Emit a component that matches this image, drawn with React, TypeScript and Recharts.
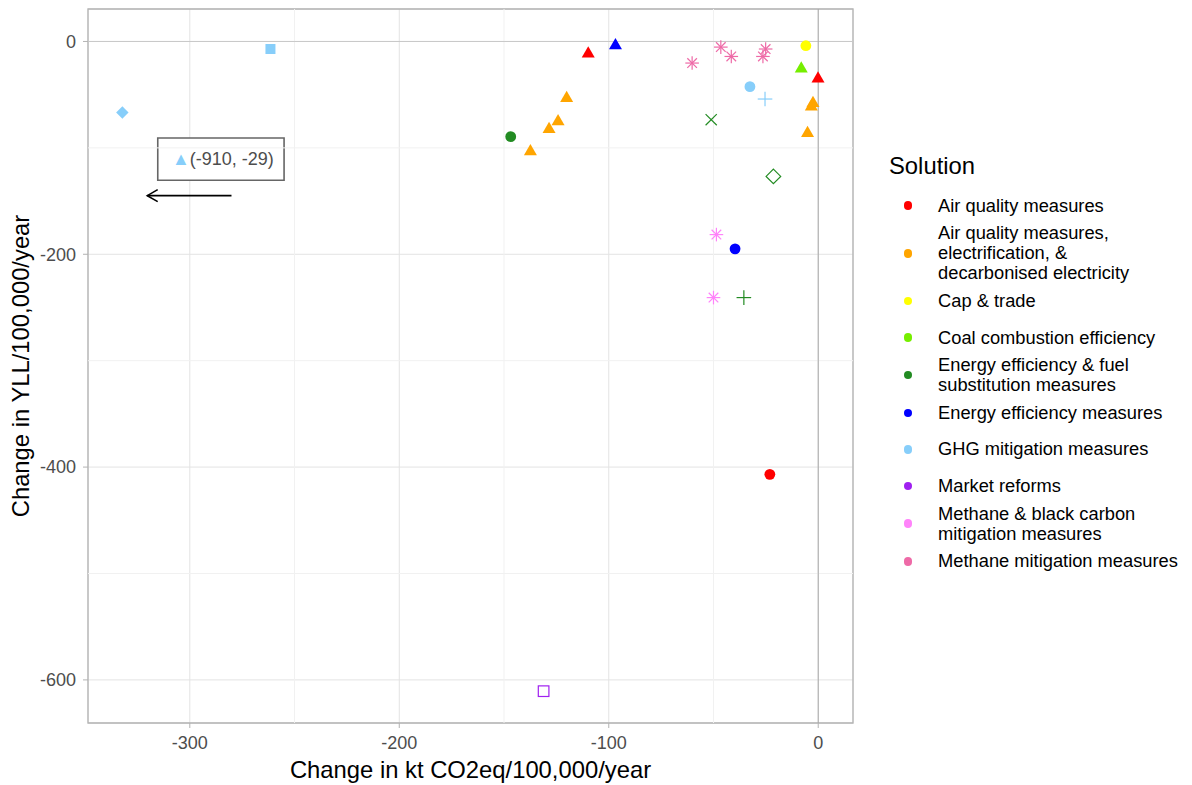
import React from 'react';
import {
  ScatterChart,
  Scatter,
  XAxis,
  YAxis,
  CartesianGrid,
  ReferenceLine,
  ReferenceArea,
} from 'recharts';

const FONT = '"Liberation Sans", Arial, sans-serif';

// legend categories + colours
const solutions = [
  'Air quality measures',
  'Air quality measures, electrification, & decarbonised electricity',
  'Cap & trade',
  'Coal combustion efficiency',
  'Energy efficiency & fuel substitution measures',
  'Energy efficiency measures',
  'GHG mitigation measures',
  'Market reforms',
  'Methane & black carbon mitigation measures',
  'Methane mitigation measures',
];
const solutionColors = [
  '#FF0000', '#FFA500', '#FFFF00', '#76EE00', '#228B22',
  '#0000FF', '#87CEFA', '#A020F0', '#FF83FA', '#EE6AA7',
];
const legendLines = [
  ['Air quality measures'],
  ['Air quality measures,', 'electrification, &', 'decarbonised electricity'],
  ['Cap & trade'],
  ['Coal combustion efficiency'],
  ['Energy efficiency & fuel', 'substitution measures'],
  ['Energy efficiency measures'],
  ['GHG mitigation measures'],
  ['Market reforms'],
  ['Methane & black carbon', 'mitigation measures'],
  ['Methane mitigation measures'],
];

type Pt = { x: number; y: number; shape: string };

// x = change in kt CO2eq, y = change in YLL (per 100,000 per year)
const airQuality: Pt[] = [
  { x: -109.8, y: -11.5, shape: 'triangle' },
  { x: -0.1, y: -35.1, shape: 'triangle' },
  { x: -23.1, y: -406.8, shape: 'circle' },
];
const airQualityElec: Pt[] = [
  { x: -120.1, y: -53.3, shape: 'triangle' },
  { x: -124.2, y: -75.2, shape: 'triangle' },
  { x: -128.5, y: -82.4, shape: 'triangle' },
  { x: -137.4, y: -103.4, shape: 'triangle' },
  { x: -2.5, y: -58.0, shape: 'triangle' },
  { x: -3.3, y: -61.4, shape: 'triangle' },
  { x: -5.1, y: -86.2, shape: 'triangle' },
];
const capTrade: Pt[] = [{ x: -5.9, y: -4.0, shape: 'circle' }];
const coalEfficiency: Pt[] = [{ x: -8.1, y: -25.7, shape: 'triangle' }];
const efficiencyFuel: Pt[] = [
  { x: -146.8, y: -89.5, shape: 'circle' },
  { x: -51.1, y: -73.5, shape: 'cross' },
  { x: -21.4, y: -126.8, shape: 'openDiamond' },
  { x: -35.5, y: -240.7, shape: 'plus' },
];
const efficiency: Pt[] = [
  { x: -96.8, y: -3.7, shape: 'triangle' },
  { x: -39.7, y: -194.9, shape: 'circle' },
];
const ghg: Pt[] = [
  { x: -332.2, y: -66.7, shape: 'diamond' },
  { x: -261.5, y: -7.1, shape: 'square' },
  { x: -32.6, y: -42.5, shape: 'circle' },
  { x: -25.4, y: -54.1, shape: 'plus' },
];
const marketReforms: Pt[] = [{ x: -131.1, y: -610.6, shape: 'openSquare' }];
const methaneBlackCarbon: Pt[] = [
  { x: -48.6, y: -181.5, shape: 'asterisk' },
  { x: -50.0, y: -240.7, shape: 'asterisk' },
];
const methane: Pt[] = [
  { x: -60.2, y: -20.3, shape: 'asterisk' },
  { x: -46.5, y: -5.3, shape: 'asterisk' },
  { x: -41.5, y: -14.1, shape: 'asterisk' },
  { x: -26.4, y: -14.1, shape: 'asterisk' },
  { x: -25.1, y: -7.1, shape: 'asterisk' },
];

const seriesData = [
  airQuality, airQualityElec, capTrade, coalEfficiency, efficiencyFuel,
  efficiency, ghg, marketReforms, methaneBlackCarbon, methane,
];

const xTicks = [-300, -200, -100, 0];
const yTicks = [0, -200, -400, -600];
const xMinor = [-250, -150, -50];
const yMinor = [-100, -300, -500];
const xDomain: [number, number] = [-348.6, 16.6];
const yDomain: [number, number] = [-640.5, 30.5];

// off-scale point annotation
const offscaleText = '(-910, -29)';
const offscaleBox = { x1: -315.3, x2: -255.0, y1: -130.5, y2: -90.7 };
const arrowSegment = [{ x: -280.1, y: -144.9 }, { x: -320.3, y: -144.9 }];

function PointShape(props: any) {
  const { cx, cy, payload, color } = props;
  const sw = 1.2;
  switch (payload.shape) {
    case 'triangle':
      return <polygon points={`${cx},${cy - 7.5} ${cx + 6.5},${cy + 3.75} ${cx - 6.5},${cy + 3.75}`} fill={color} />;
    case 'circle':
      return <circle cx={cx} cy={cy} r={5.4} fill={color} />;
    case 'square':
      return <rect x={cx - 5} y={cy - 5} width={10} height={10} fill={color} />;
    case 'diamond':
      return <polygon points={`${cx},${cy - 6.2} ${cx + 6.2},${cy} ${cx},${cy + 6.2} ${cx - 6.2},${cy}`} fill={color} />;
    case 'openDiamond':
      return <polygon points={`${cx},${cy - 7.3} ${cx + 7.3},${cy} ${cx},${cy + 7.3} ${cx - 7.3},${cy}`} fill="none" stroke={color} strokeWidth={sw} />;
    case 'openSquare':
      return <rect x={cx - 5.3} y={cy - 5.3} width={10.6} height={10.6} fill="none" stroke={color} strokeWidth={sw} />;
    case 'plus':
      return (
        <g stroke={color} strokeWidth={sw}>
          <line x1={cx - 7.3} y1={cy} x2={cx + 7.3} y2={cy} />
          <line x1={cx} y1={cy - 7.3} x2={cx} y2={cy + 7.3} />
        </g>
      );
    case 'cross':
      return (
        <g stroke={color} strokeWidth={sw}>
          <line x1={cx - 5.6} y1={cy - 5.6} x2={cx + 5.6} y2={cy + 5.6} />
          <line x1={cx - 5.6} y1={cy + 5.6} x2={cx + 5.6} y2={cy - 5.6} />
        </g>
      );
    case 'asterisk':
      return (
        <g stroke={color} strokeWidth={sw}>
          <line x1={cx - 6.8} y1={cy} x2={cx + 6.8} y2={cy} />
          <line x1={cx} y1={cy - 6.8} x2={cx} y2={cy + 6.8} />
          <line x1={cx - 4.8} y1={cy - 4.8} x2={cx + 4.8} y2={cy + 4.8} />
          <line x1={cx - 4.8} y1={cy + 4.8} x2={cx + 4.8} y2={cy - 4.8} />
        </g>
      );
    default:
      return null;
  }
}

function ArrowShape(props: any) {
  const { x1, y1, x2, y2 } = props;
  const dir = Math.sign(x2 - x1) || 1;
  return (
    <g stroke="#000" strokeWidth={1.6} fill="none">
      <line x1={x1} y1={y1} x2={x2} y2={y2} />
      <polyline points={`${x2 - dir * 10.4},${y2 - 6} ${x2},${y2} ${x2 - dir * 10.4},${y2 + 6}`} />
    </g>
  );
}

const rowHeight = (lines: number) => (lines === 1 ? 36.6 : lines === 2 ? 38.7 : 58.7);

export default function App() {
  return (
    <div style={{ position: 'absolute', left: 0, top: 0, width: 1192, height: 785, background: '#fff', fontFamily: FONT }}>
      <ScatterChart width={1192} height={785} margin={{ top: 9, right: 339, bottom: 0, left: 0 }} style={{ fontFamily: FONT }}>
        <CartesianGrid stroke="#E3E3E3" />
        {xMinor.map((v) => <ReferenceLine key={`xm${v}`} x={v} stroke="#F1F1F1" />)}
        {yMinor.map((v) => <ReferenceLine key={`ym${v}`} y={v} stroke="#F1F1F1" />)}
        <ReferenceLine y={0} stroke="#C8C8C8" />
        <ReferenceLine x={0} stroke="#A8A8A8" />
        <XAxis
          type="number"
          dataKey="x"
          domain={xDomain}
          ticks={xTicks}
          allowDataOverflow
          height={62}
          tickSize={5}
          tickMargin={8}
          axisLine={false}
          tickLine={{ stroke: '#B3B3B3' }}
          tick={{ fill: '#4D4D4D', fontSize: 18 }}
          label={{ value: 'Change in kt CO2eq/100,000/year', position: 'insideBottom', offset: 7.5, fill: '#000', fontSize: 23.8 }}
        />
        <YAxis
          type="number"
          dataKey="y"
          domain={yDomain}
          ticks={yTicks}
          allowDataOverflow
          width={88}
          tickSize={5}
          tickMargin={7}
          axisLine={false}
          tickLine={{ stroke: '#B3B3B3' }}
          tick={{ fill: '#4D4D4D', fontSize: 18 }}
          label={{ value: 'Change in YLL/100,000/year', angle: -90, position: 'insideLeft', offset: 21, fill: '#000', fontSize: 23.8, style: { textAnchor: 'middle' } }}
        />
        {seriesData.map((d, i) => (
          <Scatter
            key={solutions[i]}
            name={solutions[i]}
            data={d}
            fill={solutionColors[i]}
            isAnimationActive={false}
            shape={(p: any) => <PointShape {...p} color={solutionColors[i]} />}
          />
        ))}
        <ReferenceArea x1={xDomain[0]} x2={xDomain[1]} y1={yDomain[0]} y2={yDomain[1]} fill="none" fillOpacity={0} stroke="#B3B3B3" strokeWidth={1.3} />
        <ReferenceArea
          x1={offscaleBox.x1}
          x2={offscaleBox.x2}
          y1={offscaleBox.y1}
          y2={offscaleBox.y2}
          fill="#fff"
          fillOpacity={1}
          stroke="#666"
          strokeWidth={1.6}
          label={(p: any) => {
            const vb = p.viewBox;
            return (
              <text x={vb.x + vb.width / 2 + 2} y={vb.y + vb.height / 2} dominantBaseline="central" textAnchor="middle" fontSize={18} fontFamily={FONT} fill="#4D4D4D">
                <tspan fill={solutionColors[6]}>▲</tspan>
                <tspan>{offscaleText}</tspan>
              </text>
            );
          }}
        />
        <ReferenceLine segment={arrowSegment} shape={(p: any) => <ArrowShape {...p} />} />
      </ScatterChart>

      <div style={{ position: 'absolute', left: 889, top: 154, fontSize: 23.8, lineHeight: '23.8px', color: '#000' }}>Solution</div>
      <div style={{ position: 'absolute', left: 899, top: 187.4 }}>
        {solutions.map((s, i) => (
          <div key={s} style={{ display: 'flex', alignItems: 'center', height: rowHeight(legendLines[i].length) }}>
            <span style={{ display: 'inline-block', width: 8.4, height: 8.4, borderRadius: '50%', background: solutionColors[i], marginLeft: 4.5, marginRight: 26.2, flexShrink: 0 }} />
            <div style={{ fontSize: 18.3, lineHeight: '20px', color: '#000', whiteSpace: 'nowrap' }}>
              {legendLines[i].map((l) => <div key={l}>{l}</div>)}
            </div>
          </div>
        ))}
      </div>
    </div>
  );
}
